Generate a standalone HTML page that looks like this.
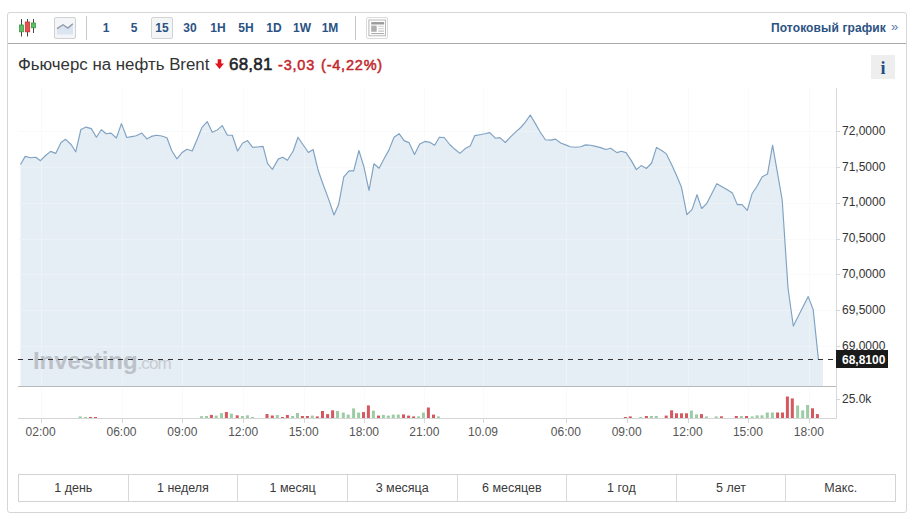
<!DOCTYPE html>
<html><head><meta charset="utf-8">
<style>
*{margin:0;padding:0;box-sizing:border-box}
html,body{width:916px;height:519px;background:#fff;overflow:hidden}
body{font-family:"Liberation Sans",Arial,sans-serif;position:relative;color:#333}
.box{position:absolute;left:7px;top:12px;width:900px;height:501px;border:1px solid #d6d6d6;border-radius:3px}
.hsep{position:absolute;left:8px;top:43px;width:898px;height:1px;background:#a9a9a9}
.vsep{position:absolute;top:16px;width:1px;height:24px;background:#c9c9c9}
.tb{position:absolute;top:21px;font-weight:bold;font-size:12px;color:#2b5283;line-height:14px;text-align:center;width:28px}
.btnsel{position:absolute;top:17px;height:22px;border:1px solid #d3d3d3;border-radius:2px;background:#f4f5f7}
.stream{position:absolute;right:30px;top:21px;font-weight:bold;font-size:12px;letter-spacing:0.12px;color:#2b5283;line-height:14px;white-space:nowrap}
.raq{position:absolute;left:891px;top:20px;font-size:13px;color:#5a7aa8;line-height:14px}
.title{position:absolute;left:18px;top:56px;font-size:16.85px;line-height:18px;color:#333;white-space:nowrap}
.price{position:absolute;left:229px;top:56px;font-size:17px;line-height:18px;font-weight:normal;color:#1f2328;-webkit-text-stroke:0.55px #1f2328;letter-spacing:0.2px}
.chg{position:absolute;left:278px;top:56px;font-size:14.5px;line-height:18px;color:#c3272c;letter-spacing:0.8px;-webkit-text-stroke:0.5px #c3272c;white-space:nowrap}
.info{position:absolute;left:871px;top:55px;width:24px;height:24px;background:#eeeeee;font-family:"Liberation Serif",serif;font-weight:bold;font-size:18px;color:#1d4f8a;text-align:center;line-height:26px}
.pl{position:absolute;left:842px;font-size:12px;line-height:15px;color:#333}
.tl{position:absolute;top:425px;width:50px;text-align:center;font-size:12px;line-height:15px;color:#555}
.cur{position:absolute;left:836px;top:350px;width:52px;height:18px;background:#1a1a1a;color:#fff;font-weight:bold;font-size:12px;line-height:20px;padding-left:6px;overflow:hidden}
.wm{position:absolute;left:33px;top:347px;font-size:24px;line-height:28px;font-weight:bold;color:#bcc1c8;letter-spacing:-0.1px;white-space:nowrap}
.wm span{font-weight:normal;color:#c8ccd2;letter-spacing:-0.9px;font-size:17px}
.rng{position:absolute;left:18px;top:474px;width:878px;height:28px;border:1px solid #d3d3d3;display:flex}
.rng div{flex:1;border-left:1px solid #d8d8d8;text-align:center;font-size:12.5px;line-height:26px;color:#3a3a3a}
.rng div:first-child{border-left:none}
</style></head><body>
<div class="box"></div>
<div class="hsep"></div>

<svg style="position:absolute;left:0;top:0" width="916" height="519">
<path d="M20.5,164.5 L25.2,156.4 L30.6,157.8 L35.8,157.2 L40.4,160.7 L45.6,155.5 L50.6,151.4 L55.7,153.4 L61.0,142.5 L65.6,139.3 L71.1,144.5 L75.7,151.8 L80.9,129.5 L86.1,127.1 L91.3,128.6 L96.4,137.2 L101.3,129.7 L106.2,133.7 L111.0,133.1 L116.4,138.0 L121.4,123.6 L126.8,137.5 L131.6,136.6 L136.2,135.7 L141.8,133.1 L146.9,138.9 L151.3,136.4 L156.5,135.2 L161.7,136.0 L166.9,137.7 L171.7,150.5 L176.8,158.8 L181.8,152.8 L187.0,149.3 L192.2,151.0 L197.1,139.5 L202.0,127.3 L207.2,121.6 L212.2,132.2 L217.3,129.9 L222.2,125.6 L227.4,135.2 L232.3,135.2 L237.6,151.0 L242.5,143.2 L247.5,140.6 L252.5,147.2 L257.6,147.0 L263.1,146.4 L267.5,163.4 L272.4,169.5 L278.2,159.1 L282.8,157.2 L287.4,160.3 L293.2,151.0 L298.0,137.2 L303.4,145.3 L308.4,152.5 L313.1,149.5 L318.3,170.8 L323.5,185.5 L328.7,199.4 L334.0,215.0 L338.6,204.6 L343.8,176.9 L349.0,170.8 L353.7,170.8 L358.9,150.5 L363.8,166.4 L369.0,190.4 L373.9,163.8 L379.1,168.2 L384.6,157.8 L389.0,149.9 L394.0,137.2 L399.1,133.7 L404.1,140.6 L409.0,142.6 L414.5,154.5 L419.7,144.1 L424.9,141.4 L430.1,142.4 L434.7,145.3 L439.3,137.2 L444.2,137.5 L449.7,144.5 L454.9,149.3 L459.9,153.4 L465.2,148.6 L470.2,146.0 L474.8,135.6 L479.9,134.7 L484.9,133.8 L489.8,132.6 L495.3,138.2 L499.9,137.6 L505.3,142.5 L510.3,137.2 L515.5,132.1 L520.7,127.5 L525.3,122.2 L530.3,115.0 L535.1,123.1 L540.2,132.0 L545.4,139.8 L550.6,140.1 L555.6,139.1 L560.7,143.0 L565.6,144.9 L570.3,146.8 L575.5,147.2 L580.7,146.8 L585.6,144.9 L590.7,145.3 L595.7,146.4 L600.7,147.6 L605.8,149.5 L610.7,148.2 L616.9,152.6 L621.3,151.2 L626.0,152.6 L631.2,160.4 L636.4,169.6 L641.2,165.6 L646.4,168.5 L651.6,163.0 L656.5,147.4 L661.7,150.5 L666.4,153.9 L671.6,164.4 L676.8,176.0 L681.5,187.3 L686.9,214.6 L692.1,209.4 L697.0,194.7 L701.7,208.5 L706.9,203.3 L712.1,192.9 L716.8,183.7 L722.5,186.9 L727.7,190.0 L732.4,192.9 L737.3,204.6 L742.1,204.6 L747.3,210.3 L752.0,193.8 L757.2,186.0 L762.2,176.8 L767.5,174.1 L772.6,145.2 L777.0,170.1 L782.2,200.0 L788.0,288.0 L793.3,326.0 L808.2,296.6 L813.2,309.6 L818.4,359.1 L823,359.1 L823,386 L20.5,386 Z" fill="#e5edf5"/>
<line x1="18" y1="131.5" x2="836" y2="131.5" stroke="rgba(244,246,248,0.55)" stroke-width="1"/>
<line x1="18" y1="167.5" x2="836" y2="167.5" stroke="rgba(244,246,248,0.55)" stroke-width="1"/>
<line x1="18" y1="203.5" x2="836" y2="203.5" stroke="rgba(244,246,248,0.55)" stroke-width="1"/>
<line x1="18" y1="239.5" x2="836" y2="239.5" stroke="rgba(244,246,248,0.55)" stroke-width="1"/>
<line x1="18" y1="274.5" x2="836" y2="274.5" stroke="rgba(244,246,248,0.55)" stroke-width="1"/>
<line x1="18" y1="310.5" x2="836" y2="310.5" stroke="rgba(244,246,248,0.55)" stroke-width="1"/>
<line x1="18" y1="346.5" x2="836" y2="346.5" stroke="rgba(244,246,248,0.55)" stroke-width="1"/>
<line x1="41.5" y1="88" x2="41.5" y2="418" stroke="rgba(244,246,248,0.55)" stroke-width="1"/>
<line x1="41.5" y1="418" x2="41.5" y2="423" stroke="#d8d8d8" stroke-width="1"/>
<line x1="122.5" y1="88" x2="122.5" y2="418" stroke="rgba(244,246,248,0.55)" stroke-width="1"/>
<line x1="122.5" y1="418" x2="122.5" y2="423" stroke="#d8d8d8" stroke-width="1"/>
<line x1="182.5" y1="88" x2="182.5" y2="418" stroke="rgba(244,246,248,0.55)" stroke-width="1"/>
<line x1="182.5" y1="418" x2="182.5" y2="423" stroke="#d8d8d8" stroke-width="1"/>
<line x1="243.5" y1="88" x2="243.5" y2="418" stroke="rgba(244,246,248,0.55)" stroke-width="1"/>
<line x1="243.5" y1="418" x2="243.5" y2="423" stroke="#d8d8d8" stroke-width="1"/>
<line x1="304.5" y1="88" x2="304.5" y2="418" stroke="rgba(244,246,248,0.55)" stroke-width="1"/>
<line x1="304.5" y1="418" x2="304.5" y2="423" stroke="#d8d8d8" stroke-width="1"/>
<line x1="364.5" y1="88" x2="364.5" y2="418" stroke="rgba(244,246,248,0.55)" stroke-width="1"/>
<line x1="364.5" y1="418" x2="364.5" y2="423" stroke="#d8d8d8" stroke-width="1"/>
<line x1="424.5" y1="88" x2="424.5" y2="418" stroke="rgba(244,246,248,0.55)" stroke-width="1"/>
<line x1="424.5" y1="418" x2="424.5" y2="423" stroke="#d8d8d8" stroke-width="1"/>
<line x1="483.5" y1="88" x2="483.5" y2="418" stroke="rgba(244,246,248,0.55)" stroke-width="1"/>
<line x1="483.5" y1="418" x2="483.5" y2="423" stroke="#d8d8d8" stroke-width="1"/>
<line x1="566.5" y1="88" x2="566.5" y2="418" stroke="rgba(244,246,248,0.55)" stroke-width="1"/>
<line x1="566.5" y1="418" x2="566.5" y2="423" stroke="#d8d8d8" stroke-width="1"/>
<line x1="627.5" y1="88" x2="627.5" y2="418" stroke="rgba(244,246,248,0.55)" stroke-width="1"/>
<line x1="627.5" y1="418" x2="627.5" y2="423" stroke="#d8d8d8" stroke-width="1"/>
<line x1="688.5" y1="88" x2="688.5" y2="418" stroke="rgba(244,246,248,0.55)" stroke-width="1"/>
<line x1="688.5" y1="418" x2="688.5" y2="423" stroke="#d8d8d8" stroke-width="1"/>
<line x1="748.5" y1="88" x2="748.5" y2="418" stroke="rgba(244,246,248,0.55)" stroke-width="1"/>
<line x1="748.5" y1="418" x2="748.5" y2="423" stroke="#d8d8d8" stroke-width="1"/>
<line x1="809.5" y1="88" x2="809.5" y2="418" stroke="rgba(244,246,248,0.55)" stroke-width="1"/>
<line x1="809.5" y1="418" x2="809.5" y2="423" stroke="#d8d8d8" stroke-width="1"/>
</svg>
<div class="wm">Investing<span>.com</span></div>
<svg style="position:absolute;left:0;top:0" width="916" height="519">
<path d="M20.5,164.5 L25.2,156.4 L30.6,157.8 L35.8,157.2 L40.4,160.7 L45.6,155.5 L50.6,151.4 L55.7,153.4 L61.0,142.5 L65.6,139.3 L71.1,144.5 L75.7,151.8 L80.9,129.5 L86.1,127.1 L91.3,128.6 L96.4,137.2 L101.3,129.7 L106.2,133.7 L111.0,133.1 L116.4,138.0 L121.4,123.6 L126.8,137.5 L131.6,136.6 L136.2,135.7 L141.8,133.1 L146.9,138.9 L151.3,136.4 L156.5,135.2 L161.7,136.0 L166.9,137.7 L171.7,150.5 L176.8,158.8 L181.8,152.8 L187.0,149.3 L192.2,151.0 L197.1,139.5 L202.0,127.3 L207.2,121.6 L212.2,132.2 L217.3,129.9 L222.2,125.6 L227.4,135.2 L232.3,135.2 L237.6,151.0 L242.5,143.2 L247.5,140.6 L252.5,147.2 L257.6,147.0 L263.1,146.4 L267.5,163.4 L272.4,169.5 L278.2,159.1 L282.8,157.2 L287.4,160.3 L293.2,151.0 L298.0,137.2 L303.4,145.3 L308.4,152.5 L313.1,149.5 L318.3,170.8 L323.5,185.5 L328.7,199.4 L334.0,215.0 L338.6,204.6 L343.8,176.9 L349.0,170.8 L353.7,170.8 L358.9,150.5 L363.8,166.4 L369.0,190.4 L373.9,163.8 L379.1,168.2 L384.6,157.8 L389.0,149.9 L394.0,137.2 L399.1,133.7 L404.1,140.6 L409.0,142.6 L414.5,154.5 L419.7,144.1 L424.9,141.4 L430.1,142.4 L434.7,145.3 L439.3,137.2 L444.2,137.5 L449.7,144.5 L454.9,149.3 L459.9,153.4 L465.2,148.6 L470.2,146.0 L474.8,135.6 L479.9,134.7 L484.9,133.8 L489.8,132.6 L495.3,138.2 L499.9,137.6 L505.3,142.5 L510.3,137.2 L515.5,132.1 L520.7,127.5 L525.3,122.2 L530.3,115.0 L535.1,123.1 L540.2,132.0 L545.4,139.8 L550.6,140.1 L555.6,139.1 L560.7,143.0 L565.6,144.9 L570.3,146.8 L575.5,147.2 L580.7,146.8 L585.6,144.9 L590.7,145.3 L595.7,146.4 L600.7,147.6 L605.8,149.5 L610.7,148.2 L616.9,152.6 L621.3,151.2 L626.0,152.6 L631.2,160.4 L636.4,169.6 L641.2,165.6 L646.4,168.5 L651.6,163.0 L656.5,147.4 L661.7,150.5 L666.4,153.9 L671.6,164.4 L676.8,176.0 L681.5,187.3 L686.9,214.6 L692.1,209.4 L697.0,194.7 L701.7,208.5 L706.9,203.3 L712.1,192.9 L716.8,183.7 L722.5,186.9 L727.7,190.0 L732.4,192.9 L737.3,204.6 L742.1,204.6 L747.3,210.3 L752.0,193.8 L757.2,186.0 L762.2,176.8 L767.5,174.1 L772.6,145.2 L777.0,170.1 L782.2,200.0 L788.0,288.0 L793.3,326.0 L808.2,296.6 L813.2,309.6 L818.4,359.1" fill="none" stroke="#7fa2c2" stroke-width="1.15" stroke-linejoin="round"/>
<line x1="18" y1="359.5" x2="836" y2="359.5" stroke="#333" stroke-width="1" stroke-dasharray="5,5"/>
<line x1="18" y1="386.5" x2="836" y2="386.5" stroke="#b9b9b9" stroke-width="1"/>
<line x1="18" y1="418.5" x2="836" y2="418.5" stroke="#d5d5d5" stroke-width="1"/>
<line x1="836.5" y1="88" x2="836.5" y2="419" stroke="#d9d9d9" stroke-width="1"/>
<line x1="836" y1="131.5" x2="840" y2="131.5" stroke="#d5d5d5"/><line x1="836" y1="167.5" x2="840" y2="167.5" stroke="#d5d5d5"/><line x1="836" y1="203.5" x2="840" y2="203.5" stroke="#d5d5d5"/><line x1="836" y1="239.5" x2="840" y2="239.5" stroke="#d5d5d5"/><line x1="836" y1="274.5" x2="840" y2="274.5" stroke="#d5d5d5"/><line x1="836" y1="310.5" x2="840" y2="310.5" stroke="#d5d5d5"/><line x1="836" y1="346.5" x2="840" y2="346.5" stroke="#d5d5d5"/>
<line x1="836" y1="399.5" x2="840" y2="399.5" stroke="#d5d5d5"/>
<rect x="78.7" y="416.4" width="3" height="1.6" fill="#9ccca6"/>
<rect x="84.0" y="417.0" width="3" height="1.0" fill="#9ccca6"/>
<rect x="89.0" y="417.0" width="3" height="1.0" fill="#d4585e"/>
<rect x="94.0" y="417.0" width="3" height="1.0" fill="#d4585e"/>
<rect x="200.0" y="416.2" width="3" height="1.8" fill="#9ccca6"/>
<rect x="205.0" y="416.0" width="3" height="2.0" fill="#9ccca6"/>
<rect x="209.9" y="414.9" width="3" height="3.1" fill="#d4585e"/>
<rect x="214.7" y="415.6" width="3" height="2.4" fill="#9ccca6"/>
<rect x="220.0" y="413.1" width="3" height="4.9" fill="#9ccca6"/>
<rect x="224.9" y="412.0" width="3" height="6.0" fill="#d4585e"/>
<rect x="229.9" y="413.6" width="3" height="4.4" fill="#9ccca6"/>
<rect x="235.7" y="415.3" width="3" height="2.7" fill="#d4585e"/>
<rect x="240.9" y="416.0" width="3" height="2.0" fill="#9ccca6"/>
<rect x="245.9" y="415.3" width="3" height="2.7" fill="#9ccca6"/>
<rect x="250.9" y="417.0" width="3" height="1.0" fill="#9ccca6"/>
<rect x="265.5" y="414.0" width="3" height="4.0" fill="#d4585e"/>
<rect x="270.8" y="415.5" width="3" height="2.5" fill="#d4585e"/>
<rect x="275.8" y="415.0" width="3" height="3.0" fill="#9ccca6"/>
<rect x="281.0" y="417.0" width="3" height="1.0" fill="#d4585e"/>
<rect x="285.9" y="415.0" width="3" height="3.0" fill="#d4585e"/>
<rect x="291.1" y="416.0" width="3" height="2.0" fill="#9ccca6"/>
<rect x="296.0" y="413.0" width="3" height="5.0" fill="#9ccca6"/>
<rect x="300.9" y="416.0" width="3" height="2.0" fill="#d4585e"/>
<rect x="305.9" y="416.0" width="3" height="2.0" fill="#d4585e"/>
<rect x="310.8" y="415.6" width="3" height="2.4" fill="#9ccca6"/>
<rect x="315.8" y="416.4" width="3" height="1.6" fill="#d4585e"/>
<rect x="321.0" y="411.0" width="3" height="7.0" fill="#d4585e"/>
<rect x="326.1" y="414.1" width="3" height="3.9" fill="#d4585e"/>
<rect x="331.1" y="410.3" width="3" height="7.7" fill="#d4585e"/>
<rect x="336.0" y="411.0" width="3" height="7.0" fill="#9ccca6"/>
<rect x="341.8" y="412.6" width="3" height="5.4" fill="#9ccca6"/>
<rect x="346.7" y="414.6" width="3" height="3.4" fill="#9ccca6"/>
<rect x="352.1" y="408.4" width="3" height="9.6" fill="#9ccca6"/>
<rect x="357.1" y="412.6" width="3" height="5.4" fill="#9ccca6"/>
<rect x="362.0" y="412.1" width="3" height="5.9" fill="#d4585e"/>
<rect x="366.9" y="405.4" width="3" height="12.6" fill="#d4585e"/>
<rect x="371.9" y="410.6" width="3" height="7.4" fill="#9ccca6"/>
<rect x="377.0" y="415.6" width="3" height="2.4" fill="#d4585e"/>
<rect x="381.9" y="414.9" width="3" height="3.1" fill="#9ccca6"/>
<rect x="386.8" y="415.6" width="3" height="2.4" fill="#9ccca6"/>
<rect x="391.8" y="414.6" width="3" height="3.4" fill="#9ccca6"/>
<rect x="396.8" y="414.6" width="3" height="3.4" fill="#9ccca6"/>
<rect x="402.0" y="414.4" width="3" height="3.6" fill="#d4585e"/>
<rect x="407.1" y="415.6" width="3" height="2.4" fill="#d4585e"/>
<rect x="412.1" y="416.4" width="3" height="1.6" fill="#d4585e"/>
<rect x="417.0" y="416.4" width="3" height="1.6" fill="#9ccca6"/>
<rect x="421.9" y="412.6" width="3" height="5.4" fill="#9ccca6"/>
<rect x="426.9" y="407.5" width="3" height="10.5" fill="#d4585e"/>
<rect x="432.0" y="414.6" width="3" height="3.4" fill="#d4585e"/>
<rect x="436.9" y="416.4" width="3" height="1.6" fill="#9ccca6"/>
<rect x="623.9" y="417.0" width="3" height="1.0" fill="#d4585e"/>
<rect x="628.8" y="416.4" width="3" height="1.6" fill="#d4585e"/>
<rect x="639.2" y="417.0" width="3" height="1.0" fill="#9ccca6"/>
<rect x="644.9" y="416.0" width="3" height="2.0" fill="#d4585e"/>
<rect x="649.9" y="416.0" width="3" height="2.0" fill="#9ccca6"/>
<rect x="654.8" y="416.0" width="3" height="2.0" fill="#9ccca6"/>
<rect x="664.7" y="415.6" width="3" height="2.4" fill="#d4585e"/>
<rect x="670.1" y="410.3" width="3" height="7.7" fill="#d4585e"/>
<rect x="675.0" y="413.3" width="3" height="4.7" fill="#d4585e"/>
<rect x="680.0" y="413.3" width="3" height="4.7" fill="#d4585e"/>
<rect x="685.0" y="413.3" width="3" height="4.7" fill="#d4585e"/>
<rect x="689.9" y="410.6" width="3" height="7.4" fill="#9ccca6"/>
<rect x="695.0" y="414.5" width="3" height="3.5" fill="#9ccca6"/>
<rect x="700.0" y="414.1" width="3" height="3.9" fill="#d4585e"/>
<rect x="704.9" y="416.4" width="3" height="1.6" fill="#9ccca6"/>
<rect x="714.7" y="416.4" width="3" height="1.6" fill="#9ccca6"/>
<rect x="719.9" y="416.3" width="3" height="1.7" fill="#d4585e"/>
<rect x="734.8" y="416.0" width="3" height="2.0" fill="#d4585e"/>
<rect x="739.9" y="416.0" width="3" height="2.0" fill="#9ccca6"/>
<rect x="745.0" y="416.0" width="3" height="2.0" fill="#d4585e"/>
<rect x="750.7" y="416.4" width="3" height="1.6" fill="#9ccca6"/>
<rect x="755.6" y="415.3" width="3" height="2.7" fill="#9ccca6"/>
<rect x="760.5" y="415.3" width="3" height="2.7" fill="#9ccca6"/>
<rect x="765.8" y="412.5" width="3" height="5.5" fill="#9ccca6"/>
<rect x="770.9" y="412.5" width="3" height="5.5" fill="#9ccca6"/>
<rect x="776.1" y="412.5" width="3" height="5.5" fill="#d4585e"/>
<rect x="781.0" y="412.5" width="3" height="5.5" fill="#d4585e"/>
<rect x="785.9" y="396.5" width="3" height="21.5" fill="#d4585e"/>
<rect x="790.8" y="398.4" width="3" height="19.6" fill="#d4585e"/>
<rect x="796.1" y="405.5" width="3" height="12.5" fill="#9ccca6"/>
<rect x="801.2" y="410.4" width="3" height="7.6" fill="#9ccca6"/>
<rect x="806.1" y="405.0" width="3" height="13.0" fill="#9ccca6"/>
<rect x="811.0" y="408.3" width="3" height="9.7" fill="#d4585e"/>
<rect x="815.9" y="414.1" width="3" height="3.9" fill="#d4585e"/>
<!-- candle icon -->
<line x1="21.5" y1="19" x2="21.5" y2="36.5" stroke="#444" stroke-width="1"/>
<rect x="19.5" y="25" width="4" height="6.8" fill="#5cbf62" stroke="#3c9a45" stroke-width="0.8"/>
<line x1="27.5" y1="19" x2="27.5" y2="36.5" stroke="#444" stroke-width="1"/>
<rect x="25.3" y="22" width="4.4" height="9.8" fill="#e4514f" stroke="#c33" stroke-width="0.8"/>
<line x1="33.5" y1="19" x2="33.5" y2="33" stroke="#444" stroke-width="1"/>
<rect x="31.4" y="23" width="4" height="4.8" fill="#5cbf62" stroke="#3c9a45" stroke-width="0.8"/>
<!-- line icon button -->
<rect x="54.5" y="17.5" width="21" height="21" rx="1.5" fill="#f3f5f8" stroke="#d0d0d0"/>
<path d="M57,28.6 L63,24.8 L67.8,28.1 L72.9,23.7 L72.9,34.5 L57,34.5 Z" fill="#dbe4f1"/>
<path d="M57,28.6 L63,24.8 L67.8,28.1 L72.9,23.7" fill="none" stroke="#8e9aa8" stroke-width="1.3"/>
<!-- layout icon -->
<rect x="366.5" y="17.5" width="21" height="21" rx="1.5" fill="#fff" stroke="#dadada"/>
<rect x="368.9" y="20" width="16.6" height="15.8" fill="#fff" stroke="#b7b7b7" stroke-width="1"/>
<rect x="371.2" y="22.1" width="12.9" height="2.4" fill="#9a9a9a"/>
<rect x="371.2" y="25.6" width="5.5" height="6.2" fill="#b0b0b0"/>
<rect x="378.2" y="25.8" width="5.9" height="1" fill="#cfcfcf"/>
<rect x="378.2" y="28.2" width="5.9" height="1" fill="#cfcfcf"/>
<rect x="378.2" y="30.6" width="5.9" height="1" fill="#b5b5b5"/>
<rect x="371.2" y="33.1" width="12.9" height="1" fill="#a5a5a5"/>
<!-- red arrow -->
<path d="M217.7,59.2 L221.3,59.2 L221.3,63.6 L224,63.6 L219.5,69 L215,63.6 L217.7,63.6 Z" fill="#e0141e"/>
</svg>

<div class="vsep" style="left:86px"></div>
<div class="vsep" style="left:355px"></div>
<div class="btnsel" style="left:151px;width:22px"></div>
<div class="tb" style="left:92px">1</div>
<div class="tb" style="left:120px">5</div>
<div class="tb" style="left:148px">15</div>
<div class="tb" style="left:176px">30</div>
<div class="tb" style="left:204px">1H</div>
<div class="tb" style="left:232px">5H</div>
<div class="tb" style="left:260px">1D</div>
<div class="tb" style="left:288px">1W</div>
<div class="tb" style="left:316px">1M</div>
<div class="stream">Потоковый график</div>
<div class="raq">»</div>

<div class="title">Фьючерс на нефть Brent</div>
<div class="price">68,81</div>
<div class="chg">-3,03</div><div class="chg" style="left:321px">(-4,22%)</div>
<div class="info">i</div>

<div class="pl" style="top:123.8px">72,0000</div>
<div class="pl" style="top:159.6px">71,5000</div>
<div class="pl" style="top:195.4px">71,0000</div>
<div class="pl" style="top:231.2px">70,5000</div>
<div class="pl" style="top:267.0px">70,0000</div>
<div class="pl" style="top:302.8px">69,5000</div>
<div class="pl" style="top:338.6px">69,0000</div>
<div class="cur">68,8100</div>
<div class="pl" style="top:392px">25.0k</div>
<div class="tl" style="left:15.6px">02:00</div>
<div class="tl" style="left:96.5px">06:00</div>
<div class="tl" style="left:157.3px">09:00</div>
<div class="tl" style="left:218.2px">12:00</div>
<div class="tl" style="left:278.7px">15:00</div>
<div class="tl" style="left:339.0px">18:00</div>
<div class="tl" style="left:399.3px">21:00</div>
<div class="tl" style="left:458.0px">10.09</div>
<div class="tl" style="left:540.8px">06:00</div>
<div class="tl" style="left:601.7px">09:00</div>
<div class="tl" style="left:662.6px">12:00</div>
<div class="tl" style="left:722.9px">15:00</div>
<div class="tl" style="left:783.8px">18:00</div>

<div class="rng"><div>1 день</div><div>1 неделя</div><div>1 месяц</div><div>3 месяца</div><div>6 месяцев</div><div>1 год</div><div>5 лет</div><div>Макс.</div></div>
</body></html>
